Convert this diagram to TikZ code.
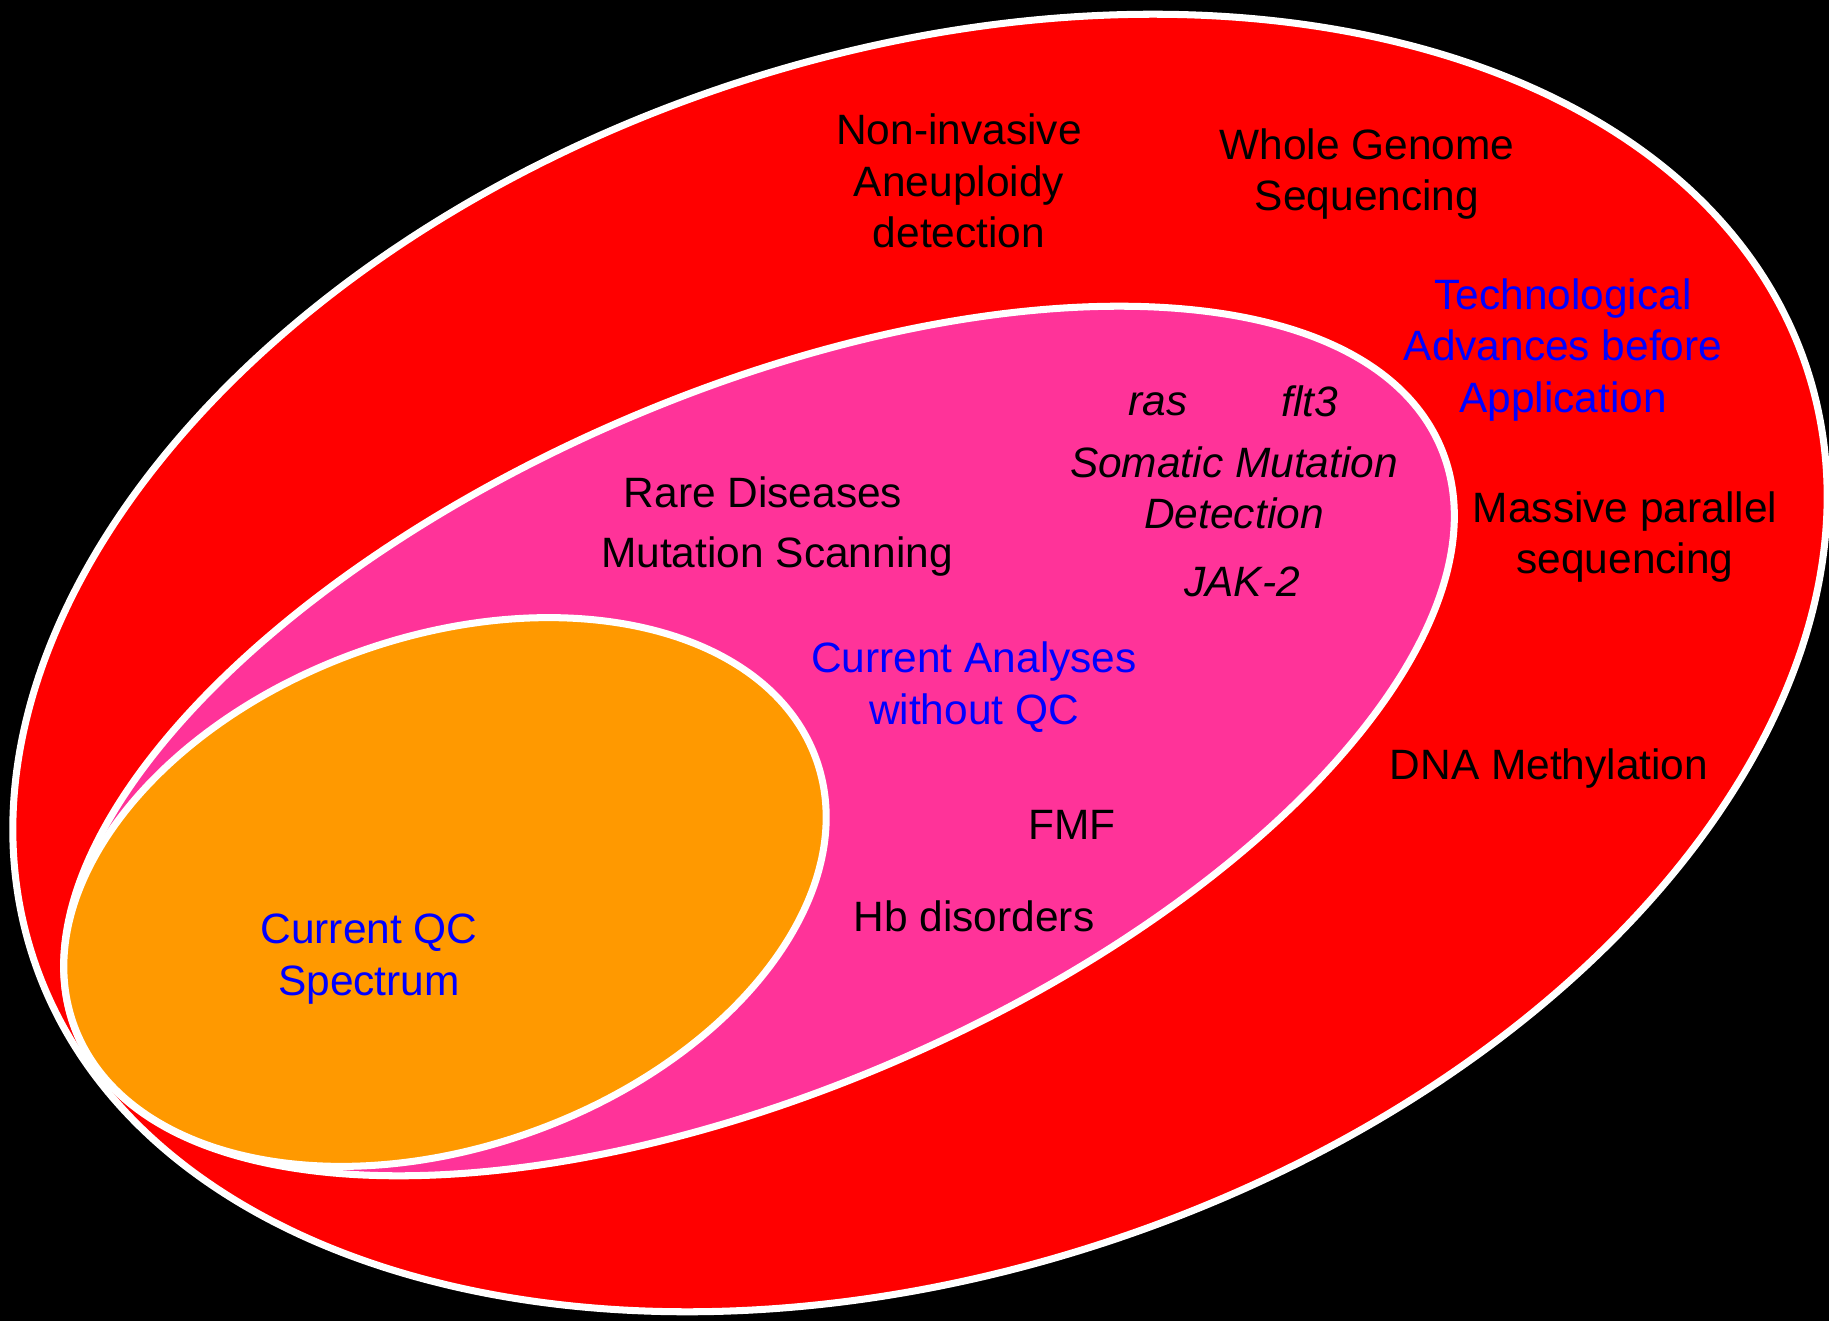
\documentclass[tikz,border=0pt]{standalone}
\usepackage{fontspec}
\setmainfont{Liberation Sans}
\definecolor{qcred}{HTML}{FF0000}
\definecolor{qcpink}{HTML}{FF3399}
\definecolor{qcorange}{HTML}{FF9900}
\definecolor{qcblue}{HTML}{0000FF}

\begin{document}
\begin{tikzpicture}[x=0.01cm, y=-0.01cm,
    ring/.style={draw=white, line width=2pt},
    lbl/.style={align=center, inner sep=0pt, font=\fontsize{12.07}{14.6}\selectfont},
    head/.style={lbl, text=qcblue}]
    \fill[black] (0,0) rectangle (1829,1321);
    \useasboundingbox (0,0) rectangle (1829,1321);
    % the three sets
    \draw[ring, fill=qcred, rotate around={18.5:(920,663)}] (920,663) ellipse [x radius=9.34cm, y radius=6.08cm];
    \draw[ring, fill=qcpink, rotate around={23.4:(759,741)}] (759,741) ellipse [x radius=7.42cm, y radius=3.48cm];
    \draw[ring, fill=qcorange, rotate around={19.6:(445,892)}] (445,892) ellipse [x radius=3.94cm, y radius=2.55cm];
    % outer ring
    \node[lbl] (noninvasive) at (959,181) {Non-invasive\\Aneuploidy\\detection};
    \node[lbl] (wgs) at (1367,174) {Whole Genome\\Sequencing};
    \node[head] (techadv) at (1563,350) {Technological\\Advances before\\Application};
    \node[lbl] (massive) at (1625,537) {Massive parallel\\sequencing};
    \node[lbl] (dnameth) at (1549,769) {DNA Methylation};
    % middle ring
    \node[lbl] (ras) at (1158,404) {\itshape ras};
    \node[lbl] (flt) at (1310,401) {\itshape flt3};
    \node[lbl] (somatic) at (1234,488) {\itshape Somatic Mutation\\\itshape Detection};
    \node[lbl] (jak) at (1242,582) {\itshape JAK-2};
    \node[lbl] (rare) at (763,492) {Rare Diseases};
    \node[lbl] (mutscan) at (777,557) {Mutation Scanning};
    \node[head] (analyses) at (974,687) {Current Analyses\\without QC};
    \node[lbl] (fmf) at (1072,825) {FMF};
    \node[lbl] (hb) at (974,916) {Hb disorders};
    % inner ring
    \node[head] (qcspec) at (369,959) {Current QC\\Spectrum};
\end{tikzpicture}
\end{document}
